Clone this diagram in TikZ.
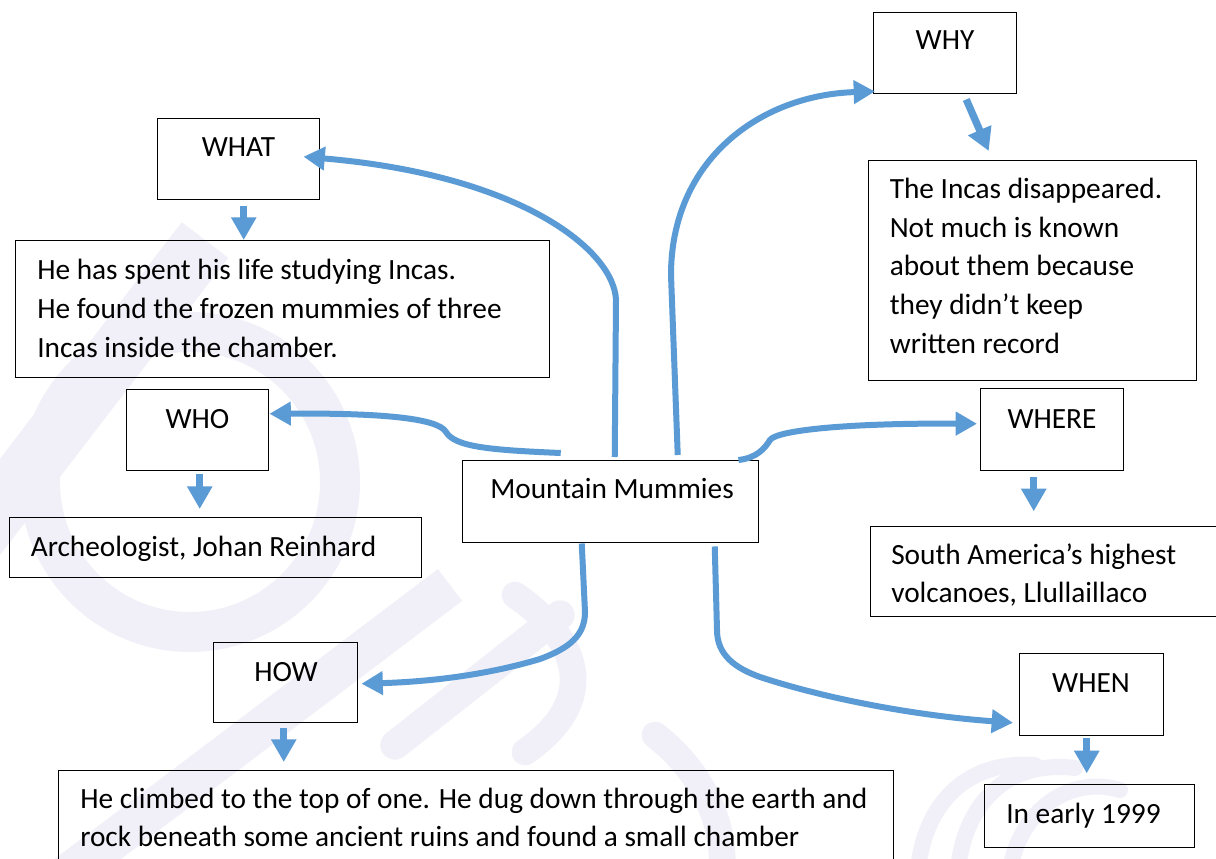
\documentclass[tikz,border=0pt]{standalone}
\usepackage{fontspec}
\setmainfont{Carlito}
\usetikzlibrary{arrows.meta,calc}
\definecolor{arrowblue}{RGB}{91,155,213}
\definecolor{wmark}{RGB}{241,240,248}
\begin{document}
\begin{tikzpicture}[x=0.75pt,y=-0.75pt,
  box/.style={draw=black, line width=1.1pt, inner sep=0pt, anchor=north west},
  lbl/.style={font=\fontsize{22}{29}\selectfont, inner sep=0pt, anchor=base west, align=left},
  clbl/.style={font=\fontsize{22}{29}\selectfont, inner sep=0pt, anchor=base},
  conn/.style={draw=arrowblue, line width=4.5pt, -{Triangle[length=16pt,width=17pt]}},
  shortarrow/.style={draw=arrowblue, line width=5.5pt, -{Triangle[length=17pt,width=18pt]}},
  wm/.style={draw=wmark, line cap=round},
]
\useasboundingbox (0,0) rectangle (1216,859);
\fill[white] (0,0) rectangle (1216,859);

% faint watermark
\begin{scope}
\clip (0,0) rectangle (1216,859);
\draw[wm, line width=30pt] (190,482) circle[radius=150];
\draw[wm, line width=44pt, line cap=butt] (-60,585) -- (205,240);
\draw[wm, line width=30pt, line cap=butt] (60,880) -- (450,585);
\draw[wm, line width=22pt] (395,745) -- (560,615);
\draw[wm, line width=20pt] (515,595) .. controls (580,640) and (600,700) .. (525,752);
\draw[wm, line width=20pt] (655,735) .. controls (700,770) and (725,820) .. (722,870);
\draw[wm, line width=12pt] (918,870) .. controls (925,800) and (970,760) .. (1035,765);
\draw[wm, line width=12pt] (958,870) .. controls (965,800) and (1010,760) .. (1075,768);
\draw[wm, line width=12pt] (1010,870) .. controls (1020,810) and (1070,775) .. (1120,790);
\end{scope}

% boxes
\node[box, minimum width=121.5pt, minimum height=60.75pt] (what) at (157,118) {};
\node[box, minimum width=400.5pt, minimum height=102.75pt] (d1) at (15,240) {};
\node[box, minimum width=106.5pt, minimum height=60.75pt] (who) at (126,389) {};
\node[box, minimum width=309pt, minimum height=45pt] (arch) at (9,517) {};
\node[box, minimum width=108pt, minimum height=60pt] (how) at (213,642) {};
\node[box, minimum width=626.25pt, minimum height=75pt] (d5) at (58,770) {};
\node[box, minimum width=222pt, minimum height=61.5pt] (mm) at (462,460) {};
\node[box, minimum width=107.25pt, minimum height=60.75pt] (why) at (873,12) {};
\node[box, minimum width=246pt, minimum height=165pt] (d2) at (868,160) {};
\node[box, minimum width=107.25pt, minimum height=61.5pt] (where) at (980,388) {};
\node[box, minimum width=264pt, minimum height=67.5pt] (sa) at (870,526) {};
\node[box, minimum width=108pt, minimum height=61.5pt] (when) at (1019,653) {};
\node[box, minimum width=157.5pt, minimum height=47.25pt] (early) at (984,784) {};

% texts (multi-line nodes: base = last line)
\node[clbl] (twhat) at (238.5,157) {WHAT};
\node[clbl] (twho) at (197.5,428) {WHO};
\node[clbl] (thow) at (286,681) {HOW};
\node[clbl] (twhy) at (945,50) {WHY};
\node[clbl] (twhere) at (1052,428) {WHERE};
\node[clbl] (twhen) at (1091,692) {WHEN};
\node[lbl] (tmm) at (490,498) {Mountain Mummies};
\node[lbl] (td1) at (37,357) {He has spent his life studying Incas.\\He found the frozen mummies of three\\Incas inside the chamber.};
\node[lbl] (tarch) at (30.5,556) {Archeologist, Johan Reinhard};
\node[lbl] (td5) at (80,846.7) {He climbed to the top of one. He dug down through the earth and\\rock beneath some ancient ruins and found a small chamber};
\node[lbl] (td2) at (889.5,353) {The Incas disappeared.\\Not much is known\\about them because\\they didn’t keep\\written record};
\node[lbl] (tsa) at (891,602.7) {South America’s highest\\volcanoes, Llullaillaco};
\node[lbl] (tearly) at (1006,823) {In early 1999};

% short arrows
\coordinate (s1) at ($(what.south)+(5,6)$);
\draw[shortarrow] (s1) -- (s1 |- d1.north);
\coordinate (s2) at ($(who.south)+(2,3)$);
\draw[shortarrow, shorten >=6pt] (s2) -- (s2 |- arch.north);
\coordinate (s3) at ($(how.south)+(-2,5)$);
\draw[shortarrow, shorten >=6pt] (s3) -- (s3 |- d5.north);
\coordinate (s4) at ($(where.south)+(-18.5,6)$);
\draw[shortarrow, shorten >=11pt] (s4) -- (s4 |- sa.north);
\coordinate (s5) at ($(when.south)+(-5,2)$);
\draw[shortarrow, shorten >=8pt] (s5) -- (s5 |- early.north);
\draw[shortarrow] ($(why.south)+(21,5)$) -- ($(d2.north)+(-44,-9)$);

% curved connectors from Mountain Mummies
\draw[conn] ($(mm.north)+(4,-3)$) -- (616,300)
  .. controls (614,250) and (520,175) .. ($(what.east)+(-17,-2.5)$);
\draw[conn] ($(mm.north)+(67,-5)$) -- (671,275)
  .. controls (671,160) and (760,95) .. ($(why.south west)+(2,-3)$);
\draw[conn] ($(mm.north)+(-50,-7)$)
  .. controls (490,450) and (455,447) .. (446,432)
  .. controls (438,418) and (380,413) .. ($(who.east)+(0,-16.5)$);
\draw[conn] ($(mm.north east)+(-21,0)$)
  .. controls (757,458) and (765,448) .. (770,440)
  .. controls (777,430) and (850,423) .. ($(where.west)+(-3,-6)$);
\draw[conn] ($(mm.south)+(-29,0)$) -- (585,612)
  .. controls (585,635) and (570,648) .. (540,659)
  .. controls (480,677) and (420,682) .. ($(how.east)+(3,1)$);
\draw[conn] ($(mm.south)+(104,3)$) -- (717,630)
  .. controls (717,655) and (735,668) .. (760,677)
  .. controls (830,700) and (920,716) .. ($(when.west)+(-6,28)$);
\end{tikzpicture}
\end{document}
